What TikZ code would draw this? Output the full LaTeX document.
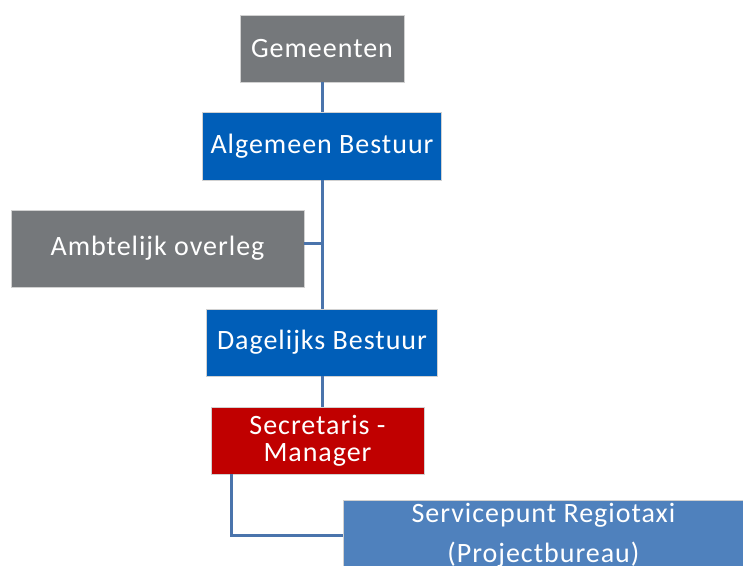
\documentclass[tikz,border=0pt]{standalone}
\usepackage{fontspec}
\setmainfont[LetterSpace=3.5]{Carlito}
\usepackage[]{tikz}
\usetikzlibrary{positioning}
\definecolor{grijs}{RGB}{117,120,123}
\definecolor{donkerblauw}{RGB}{0,94,184}
\definecolor{rood}{RGB}{192,0,0}
\definecolor{lichtblauw}{RGB}{79,129,189}
\definecolor{lijn}{RGB}{74,116,172}

\begin{document}
\begin{tikzpicture}[x=1pt,y=-1pt,
        blok/.style={draw=black!18,line width=0.8pt,text=white,align=center,inner sep=0pt,font=\fontsize{28}{27}\selectfont},
        verbind/.style={draw=lijn,line width=3pt}]
            \useasboundingbox (0,0) rectangle (743,565); % vaste maat
            \node[blok,fill=grijs,minimum width=164,minimum height=67] (gem) at (322,48.5) {Gemeenten};
            \node[blok,fill=donkerblauw,minimum width=239,minimum height=68] (alg) at (322,146) {Algemeen Bestuur};
            \node[blok,fill=grijs,minimum width=293,minimum height=77] (amb) at (157.5,248.5) {Ambtelijk overleg};
            \node[blok,fill=donkerblauw,minimum width=231,minimum height=67] (dag) at (322,342.5) {Dagelijks Bestuur};
            \node[blok,fill=rood,minimum width=213,minimum height=67] (sec) at (317.5,440.5) {Secretaris -\\Manager};
            \node[blok,fill=lichtblauw,minimum width=400,inner ysep=3pt,anchor=north west,font=\fontsize{28}{40}\selectfont] (ser) at (343,500) {Servicepunt Regiotaxi\\(Projectbureau)};
            \coordinate (tak) at (322,243); % aftakking
            \draw[verbind] (gem.south) -- (alg.north);
            \draw[verbind] (alg.south) -- (dag.north);
            \draw[verbind] (amb.east |- tak) -- (tak);
            \draw[verbind] (dag.south) -- (dag.south |- sec.north);
            \draw[verbind] ([xshift=21pt]sec.south west) |- (ser.west);
        \end{tikzpicture}
\end{document}
